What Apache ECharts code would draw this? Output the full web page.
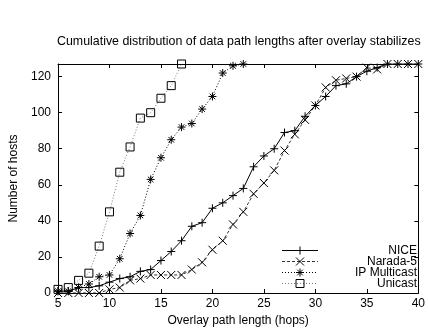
<!DOCTYPE html>
<html><head><meta charset="utf-8">
<script src="https://cdn.jsdelivr.net/npm/echarts@6/dist/echarts.min.js"></script>
<style>html,body{margin:0;padding:0;background:#fff}#c{width:428px;height:332px}</style>
</head><body><div id="c"></div>
<script>
const hops = [5,6,7,8,9,10,11,12,13,14,15,16,17,18,19,20,21,22,23,24,25,26,27,28,29,30,31,32,33,34,35,36,37,38,39,40];
const nice = [1,1,3,3,4,6,8,9,12,13,18,23,29,37,39,47,50,54,58,70,76,80,89,90,98,104,109,115,116,120,123,125,127,127,127,127];
const narada = [0,0,0,0,0,2,3,7,8,10,10,10,10,13,17,24,29,38,45,55,61,68,79,88,96,104,114,118,119,120,125,124,127,127,127,127];
const ipHops = [5,6,7,8,9,10,11,12,13,14,15,16,17,18,19,20,21,22,23];
const ipMulticast = [1,1,3,5,9,10,19,33,43,63,75,85,92,94,102,109,122,126,127];
const uniHops = [5,6,7,8,9,10,11,12,13,14,15,16,17];
const unicast = [2,3,7,11,26,45,67,81,97,100,108,115,127];
const seriesNames = ['NICE','Narada-5','IP Multicast','Unicast'];
const xTicks = [5,10,15,20,25,30,35,40];
const yTicks = [0,20,40,60,80,100,120];

const pair = (xs, ys) => xs.map((x, i) => [x, ys[i]]);
const FONT = 'Liberation Sans';
const FS = 12;
const SYM = {
  plus: 'path://M5,0L5,10M0,5L10,5',
  cross: 'path://M0,0L10,10M0,10L10,0',
  star: 'path://M5,0L5,10M0,5L10,5M1.5,1.5L8.5,8.5M1.5,8.5L8.5,1.5',
  box: 'path://M0,0L10,0L10,10L0,10Z'
};
function mk(name, data, sym, size, lineType, lineColor) {
  return {
    name, type: 'line', data, symbol: sym, symbolSize: size,
    showAllSymbol: true, animation: false,
    lineStyle: { color: lineColor, width: 1, type: lineType },
    itemStyle: { color: 'none', borderColor: '#000', borderWidth: 1 },
    emphasis: { disabled: true }
  };
}
const chart = echarts.init(document.getElementById('c'), null, { renderer: 'canvas' });
const axisCommon = {
  axisLine: { show: true, onZero: false, lineStyle: { color: '#000', width: 1 } },
  axisTick: { show: true, inside: true, length: 4, lineStyle: { color: '#000' } },
  splitLine: { show: false }
};
chart.setOption({
  animation: false,
  backgroundColor: '#fff',
  title: {
    text: 'Cumulative distribution of data path lengths after overlay stabilizes',
    left: 57, top: 36, padding: 0,
    textStyle: { fontFamily: FONT, fontSize: 12.4, fontWeight: 'normal', color: '#000' }
  },
  grid: { left: 56, right: 7, top: 64, bottom: 36, containLabel: false },
  legend: {
    orient: 'vertical', right: 11, top: 244, itemGap: -2, padding: 0,
    itemWidth: 36, itemHeight: 10, align: 'left',
    data: seriesNames,
    formatter: n => '{a|' + n + '}',
    itemStyle: { color: 'none', borderColor: '#000', borderWidth: 1 },
    lineStyle: { width: 1 },
    textStyle: {
      fontFamily: FONT, fontSize: FS, color: '#000', lineHeight: 11.2,
      rich: { a: { width: 94, height: 11.2, lineHeight: 11.2, align: 'right', verticalAlign: 'middle', fontFamily: FONT, fontSize: FS } }
    },
    selectedMode: false
  },
  xAxis: [
    Object.assign({}, axisCommon, {
      type: 'value', min: xTicks[0], max: xTicks[xTicks.length - 1], interval: 5,
      name: 'Overlay path length (hops)', nameLocation: 'middle', nameGap: 22,
      nameTextStyle: { fontFamily: FONT, fontSize: FS, color: '#000' },
      axisLabel: { fontFamily: FONT, fontSize: FS, color: '#000', margin: 5 }
    }),
    Object.assign({}, axisCommon, {
      type: 'value', position: 'top', min: 5, max: 40, interval: 5,
      axisLabel: { show: false }
    })
  ],
  yAxis: [
    Object.assign({}, axisCommon, {
      type: 'value', min: 0, max: 127, interval: 20,
      name: 'Number of hosts', nameLocation: 'middle', nameGap: 38,
      nameTextStyle: { fontFamily: FONT, fontSize: FS, color: '#000' },
      axisLabel: { fontFamily: FONT, fontSize: FS, color: '#000', margin: 7,
        formatter: v => yTicks.includes(v) ? String(v) : '' }
    }),
    Object.assign({}, axisCommon, {
      type: 'value', position: 'right', min: 0, max: 127, interval: 20,
      axisLabel: { show: false }
    })
  ],
  series: [
    mk('NICE', pair(hops, nice), SYM.plus, 8, 'solid', '#000'),
    mk('Narada-5', pair(hops, narada), SYM.cross, 8, [3, 2], '#333'),
    mk('IP Multicast', pair(ipHops, ipMulticast), SYM.star, 8, [1, 2], '#000'),
    mk('Unicast', pair(uniHops, unicast), SYM.box, 8, [1, 2], '#777')
  ]
});
</script></body></html>
